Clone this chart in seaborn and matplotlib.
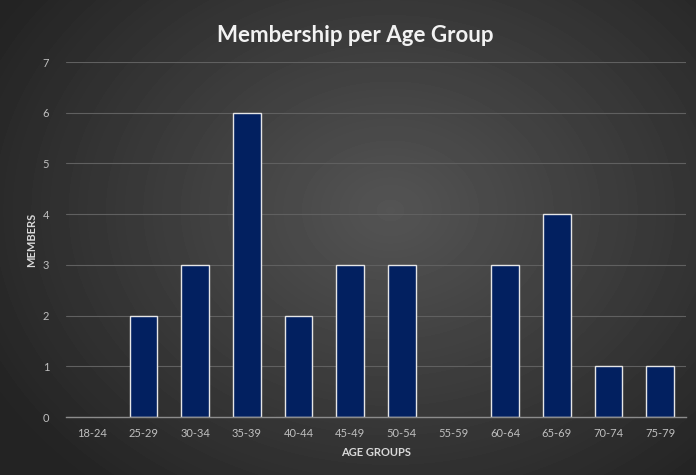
import numpy as np
import pandas as pd
import matplotlib.pyplot as plt
import seaborn as sns

age_groups = ['18-24', '25-29', '30-34', '35-39', '40-44', '45-49',
              '50-54', '55-59', '60-64', '65-69', '70-74', '75-79']
members = [0, 2, 3, 6, 2, 3, 3, 0, 3, 4, 1, 1]

df = pd.DataFrame({'age_group': age_groups, 'members': members})

sns.set_style('dark')
plt.rcParams['font.family'] = ['Lato', 'DejaVu Sans']

fig = plt.figure(figsize=(6.96, 4.75), dpi=100)

# radial grey gradient background
bg = fig.add_axes([0, 0, 1, 1], zorder=0)
yy, xx = np.mgrid[0:475, 0:696]
r = np.sqrt(((xx - 390) / 430) ** 2 + ((yy - 210) / 340) ** 2)
shade = np.clip(0.33 - 0.18 * r, 0.14, 0.33)
bg.imshow(shade, cmap='gray', vmin=0, vmax=1, aspect='auto',
          extent=[0, 1, 0, 1], origin='upper')
bg.axis('off')

ax = fig.add_axes([66 / 696, 58 / 475, 620 / 696, 355 / 475], zorder=1)
ax.set_facecolor('none')

sns.barplot(data=df, x='age_group', y='members', color='#022060',
            edgecolor='#e6e6e6', linewidth=1.0, width=0.53, saturation=1, ax=ax)
# empty groups draw no outline
for p in ax.patches:
    if p.get_height() == 0:
        p.set_linewidth(0)

ax.set_ylim(0, 7)
ax.set_yticks(range(0, 8))
ax.set_xlim(-0.5, 11.5)
ax.grid(axis='y', color='#606060', linewidth=0.8)
ax.grid(axis='x', visible=False)
ax.set_axisbelow(True)
for s in ['top', 'right', 'left']:
    ax.spines[s].set_visible(False)
ax.spines['bottom'].set_color('#8c8c8c')
ax.spines['bottom'].set_linewidth(1.0)
ax.tick_params(axis='both', colors='#bfbfbf', labelsize=8, length=0)
ax.tick_params(axis='x', pad=8)
ax.tick_params(axis='y', pad=12)

ax.set_xlabel('AGE GROUPS', color='#d9d9d9', fontsize=8, fontweight='bold', labelpad=6)
ax.set_ylabel('MEMBERS', color='#d9d9d9', fontsize=8, fontweight='bold', labelpad=4)

fig.text(0.51, 0.925, 'Membership per Age Group', ha='center', va='center',
         color='#f2f2f2', fontsize=16, fontweight='bold')

fig.savefig('out.png', dpi=100)
